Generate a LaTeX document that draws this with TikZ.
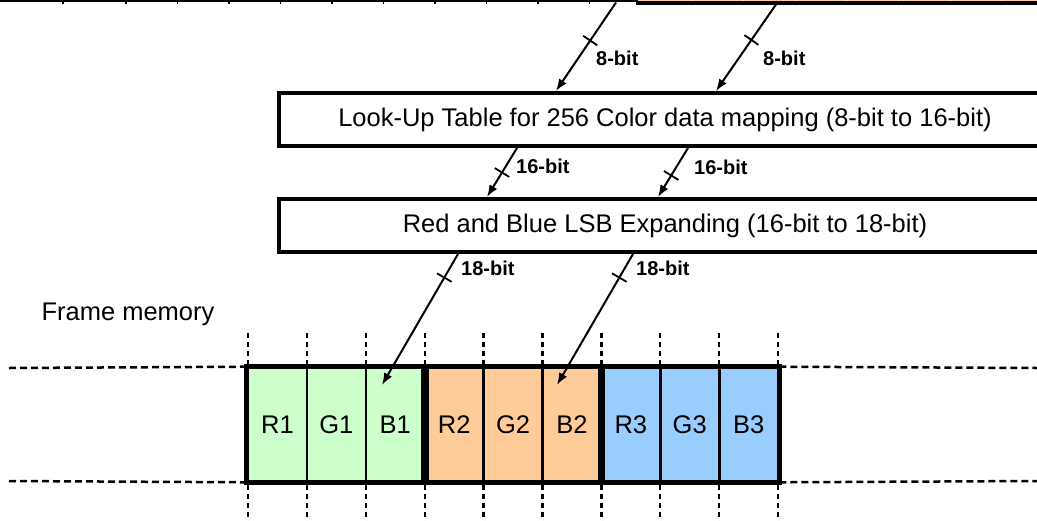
\documentclass[tikz,border=0pt]{standalone}
\usepackage{fontspec}
\setmainfont{Liberation Sans}
\usetikzlibrary{arrows.meta,calc}
\definecolor{cellgreen}{HTML}{CCFFCC}
\definecolor{cellorange}{HTML}{FFCC99}
\definecolor{cellblue}{HTML}{99CCFF}
\begin{document}
\begin{tikzpicture}[x=1pt,y=-1pt,
  stagebox/.style={draw, line width=4.2pt, minimum width=772pt, minimum height=53pt,
    inner sep=0pt, font=\fontsize{25.5}{30}\selectfont},
  memcell/.style={draw, line width=2.6pt, minimum width=58.9pt, minimum height=113pt,
    inner sep=0pt, font=\fontsize{25.5}{30}\selectfont},
  groupframe/.style={line width=5.2pt},
  bus/.style={line width=2pt, -{Latex[length=12pt,width=9pt]}},
  bustick/.style={draw, line width=1.8pt, inner sep=0pt, minimum width=0pt,
    minimum height=17pt, sloped},
  buslabel/.style={font=\fontsize{20}{24}\selectfont\bfseries, anchor=west, inner sep=0pt},
  hdash/.style={line width=2.5pt, dash pattern=on 7pt off 4pt},
  vdash/.style={line width=2.3pt, dash pattern=on 5pt off 4pt}]

\useasboundingbox (0,0) rectangle (1037,520);

% --- bottom edge of the source pixel row (cut off at the top) ---
\fill[cellorange] (638,0) rectangle (1037,3);
\foreach \x in {691.7,743.7,795,846.7,898.7,950,1001.7}
  \draw[white, line width=1pt] (\x,0) -- (\x,1.4);
\draw[line width=2.6pt] (0,1) -- (638,1);
\foreach \x in {63,126,177.5,229,280.5,332,383.5,435,486.5,538,589.5}
  \draw[line width=1.4pt] (\x,0) -- (\x,3.6);
\draw[line width=4pt] (636,3.2) -- (1037,3.2);

% --- processing stages ---
\node[stagebox] (lut) at (665,119.5) {Look-Up Table for 256 Color data mapping (8-bit to 16-bit)};
\node[stagebox] (lsb) at (665,225.5) {Red and Blue LSB Expanding (16-bit to 18-bit)};

% --- frame memory ---
\node[font=\fontsize{25.5}{30}\selectfont] (fm) at (128,314) {Frame memory};

\node[memcell, fill=cellgreen]  (r1) at (277.45,424.5) {R1};
\node[memcell, fill=cellgreen]  (g1) at (336.35,424.5) {G1};
\node[memcell, fill=cellgreen]  (b1) at (395.25,424.5) {B1};
\node[memcell, fill=cellorange] (r2) at (454.15,424.5) {R2};
\node[memcell, fill=cellorange] (g2) at (513.05,424.5) {G2};
\node[memcell, fill=cellorange] (b2) at (571.95,424.5) {B2};
\node[memcell, fill=cellblue]   (r3) at (630.85,424.5) {R3};
\node[memcell, fill=cellblue]   (g3) at (689.75,424.5) {G3};
\node[memcell, fill=cellblue]   (b3) at (748.65,424.5) {B3};

\draw[groupframe] (r1.north west) rectangle (b1.south east);
\draw[groupframe] (r2.north west) rectangle (b2.south east);
\draw[groupframe] (r3.north west) rectangle (b3.south east);

% dashed continuation of the memory rows and columns
\draw[hdash] (9,368) -- (r1.north west);
\draw[hdash] (9,481) -- (r1.south west);
\draw[hdash] (b3.north east) -- (1037,368);
\draw[hdash] (b3.south east) -- (1037,481);
\foreach \k in {0,...,9} {
  \draw[vdash] (248+58.9*\k,333) -- (248+58.9*\k,365.5);
  \draw[vdash] (248+58.9*\k,484.5) -- (248+58.9*\k,522);
}

% --- bus end points ---
\coordinate (src1) at (616,2.5);
\coordinate (src2) at (776,4.5);
\coordinate (lutin1) at (556,91);
\coordinate (lutin2) at (716,91);
\coordinate (lutout1) at (517,148);
\coordinate (lutout2) at (688,148);
\coordinate (lsbin1) at (487,197);
\coordinate (lsbin2) at (658,197);
\coordinate (lsbout1) at (458,254);
\coordinate (lsbout2) at (633,254);
\coordinate (memin1) at (382,385);
\coordinate (memin2) at (557,385);

% --- buses with width marks ---
\draw[bus] (src1) -- node[bustick, pos=0.43] {} (lutin1);
\draw[bus] (src2) -- node[bustick, pos=0.41] {} (lutin2);
\draw[bus] (lutout1) -- node[bustick, pos=0.5] {} (lsbin1);
\draw[bus] (lutout2) -- node[bustick, pos=0.56] {} (lsbin2);
\draw[bus] (lsbout1) -- node[bustick, pos=0.18] {} (memin1);
\draw[bus] (lsbout2) -- node[bustick, pos=0.18] {} (memin2);

\node[buslabel] (w8a) at (596,58) {8-bit};
\node[buslabel] (w8b) at (763,58) {8-bit};
\node[buslabel] (w16a) at (516,166) {16-bit};
\node[buslabel] (w16b) at (694,167) {16-bit};
\node[buslabel] (w18a) at (461,268) {18-bit};
\node[buslabel] (w18b) at (636,268) {18-bit};

\end{tikzpicture}
\end{document}
